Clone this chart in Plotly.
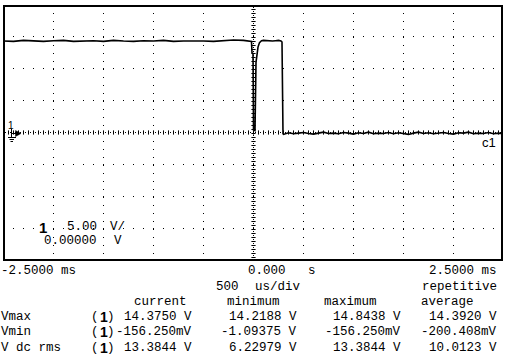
import numpy as np
import plotly.graph_objects as go

# ---------------- data ----------------
time_ms = [-2.50, -2.40, -2.30, -2.20, -2.10, -2.00, -1.90, -1.80, -1.70, -1.60,
           -1.50, -1.40, -1.30, -1.20, -1.10, -1.00, -0.90, -0.80, -0.70, -0.60,
           -0.50, -0.40, -0.30, -0.20, -0.10, -0.05, -0.020, -0.015, -0.005,
           0.000, 0.015, 0.025, 0.035, 0.045, 0.060, 0.080, 0.10, 0.13, 0.16,
           0.19, 0.22, 0.25, 0.275, 0.285, 0.295, 0.30, 0.35, 0.40, 0.45, 0.50,
           0.55, 0.60, 0.65, 0.70, 0.75, 0.80, 0.85, 0.90, 0.95, 1.00, 1.05,
           1.10, 1.15, 1.20, 1.25, 1.30, 1.35, 1.40, 1.45, 1.50, 1.55, 1.60,
           1.65, 1.70, 1.75, 1.80, 1.85, 1.90, 1.95, 2.00, 2.05, 2.10, 2.15,
           2.20, 2.25, 2.30, 2.35, 2.40, 2.45, 2.50]
volts = [14.35, 14.30, 14.45, 14.35, 14.30, 14.40, 14.45, 14.30, 14.35, 14.40,
         14.30, 14.45, 14.35, 14.30, 14.40, 14.35, 14.45, 14.30, 14.35, 14.40,
         14.35, 14.30, 14.40, 14.50, 14.45, 14.40, 14.30, 12.50, 12.40,
         0.40, 0.30, 11.00, 12.30, 13.40, 14.10, 14.40, 14.45, 14.40, 14.45,
         14.35, 14.40, 14.45, 14.35, 14.20, -0.20, -0.30, -0.05, -0.20, -0.10,
         0.00, -0.15, -0.25, -0.10, 0.05, -0.15, -0.10, -0.20, 0.00, -0.10,
         -0.25, -0.05, -0.15, 0.05, -0.20, -0.10, -0.15, 0.00, -0.20, -0.05,
         -0.15, -0.30, -0.10, 0.05, -0.15, -0.05, -0.20, -0.10, 0.00, -0.15,
         -0.25, -0.05, -0.10, 0.05, -0.20, -0.10, -0.15, 0.00, -0.20, -0.10,
         -0.15]

# ms, 500 us/div (shifted by half a pixel so 1-px graticule dots land on pixels)
x_range = [-2.505, 2.495]
y_range = [-20.0, 20.0]     # V, 5 V/div

time_labels = ["-2.5000 ms", "0.000   s", "2.5000 ms"]
timebase_labels = ["500", "us/div", "repetitive"]
col_headers = ["current", "minimum", "maximum", "average"]
meas_names = ["Vmax", "Vmin", "V dc rms"]
meas_current = ["14.3750 V", "-156.250mV", "13.3844 V"]
meas_minimum = ["14.2188 V", "-1.09375 V", "6.22979 V"]
meas_maximum = ["14.8438 V", "-156.250mV", "13.3844 V"]
meas_average = ["14.3920 V", "-200.408mV", "10.0123 V"]

# ---------------- layout helpers ----------------
W, H = 506, 356
L, R, T, B = 3, 3, 5, 96
PW, PH = W - L - R, H - T - B
XS = PW / (x_range[1] - x_range[0])   # px per ms
YS = PH / (y_range[1] - y_range[0])   # px per V


def px(x):
    return (x - L) / PW


def py(y):
    return (H - B - y) / PH


def to_t(xp):
    return x_range[0] + (np.asarray(xp, float) - L) / XS


def to_v(yp):
    return y_range[1] - (np.asarray(yp, float) - T) / YS


MONO = "Liberation Mono"
DOT = dict(symbol="square", size=1, color="black", line=dict(width=0))

fig = go.Figure()

# ---- graticule dots for the vertical divisions (drawn as 1-px squares) ----
col_px = [53.5, 103.5, 153.5, 203.5, 303.5, 353.5, 403.5, 453.5]
dot_y = np.arange(13.5, 258, 8.0)
gx, gy = np.meshgrid(col_px, dot_y)
fig.add_trace(go.Scatter(x=to_t(gx.ravel()), y=to_v(gy.ravel()), mode="markers",
                         marker=DOT, hoverinfo="skip", showlegend=False))
# centre column and centre row: fine dots plus small ticks
cy = np.arange(7.5, 259, 4.0)
cx = np.arange(5.5, 502, 5.0)
fig.add_trace(go.Scatter(x=np.concatenate([to_t(np.full(cy.size, 253.5)), to_t(cx)]),
                         y=np.concatenate([to_v(cy), to_v(np.full(cx.size, 132.5))]),
                         mode="markers", marker=DOT, hoverinfo="skip", showlegend=False))
tick_y = np.arange(9.5, 258, 4.0)
fig.add_trace(go.Scatter(x=to_t(np.full(tick_y.size, 253.5)), y=to_v(tick_y), mode="markers",
                         marker=dict(symbol="line-ew", size=3, color="black",
                                     line=dict(width=1, color="black")),
                         hoverinfo="skip", showlegend=False))
tick_x = np.arange(8.5, 500, 5.0)
fig.add_trace(go.Scatter(x=to_t(tick_x), y=to_v(np.full(tick_x.size, 132.5)), mode="markers",
                         marker=dict(symbol="line-ns", size=3, color="black",
                                     line=dict(width=1, color="black")),
                         hoverinfo="skip", showlegend=False))

# ---- the measured waveform ----
fig.add_trace(go.Scatter(x=time_ms, y=volts, mode="lines",
                         line=dict(color="black", width=1.6),
                         hoverinfo="skip", showlegend=False))

shapes = []
# frame
shapes.append(dict(type="rect", xref="paper", yref="paper",
                   x0=px(4), x1=px(502), y0=py(260), y1=py(6),
                   line=dict(color="black", width=2), layer="above"))


def seg(x0, y0, x1, y1, w=1):
    return dict(type="line", xref="paper", yref="paper", x0=px(x0), y0=py(y0),
                x1=px(x1), y1=py(y1), line=dict(color="black", width=w))


# ground marker: arrow + ground symbol
shapes.append(seg(11.5, 129, 11.5, 137))
shapes.append(seg(11.5, 133.5, 16, 133.5))
shapes.append(dict(type="path", xref="paper", yref="paper",
                   path="M %f,%f L %f,%f L %f,%f Z" % (px(15.5), py(130.5), px(21), py(133.5),
                                                       px(15.5), py(136.5)),
                   fillcolor="black", line=dict(color="black", width=0.5)))
shapes.append(seg(8, 137.5, 16, 137.5))
shapes.append(seg(9.5, 139.5, 14, 139.5))
shapes.append(seg(10.5, 141.5, 13, 141.5))

ann = []


def text(x, y, s, anchor="left", size=12.5, family=MONO, bold=False):
    if bold:
        s = "<b>%s</b>" % s
    ann.append(dict(xref="paper", yref="paper", x=px(x), y=py(y), text=s,
                    showarrow=False, xanchor=anchor, yanchor="middle",
                    font=dict(family=family, size=size, color="black"),
                    borderpad=0, bgcolor="rgba(0,0,0,0)"))


# on-screen labels
text(10.5, 125, "1", anchor="center", size=10, family="Liberation Sans")
text(497, 142, "c1", anchor="right", size=13, family="Liberation Sans")
text(43, 227, "1", anchor="center", size=15, family="Liberation Sans", bold=True)
text(98, 227, "5.00", anchor="right", size=12.5)
text(109, 227, "V/", anchor="left", size=12.5)
text(98, 241, "0.00000", anchor="right", size=12.5)
text(113, 241, "V", anchor="left", size=12.5)

# bottom read-out
text(0, 271, time_labels[0], "left")
text(247, 271, time_labels[1], "left")
text(498, 271, time_labels[2], "right")
text(215, 286.5, timebase_labels[0], "left")
text(254, 286.5, timebase_labels[1], "left")
text(498, 286.5, timebase_labels[2], "right")
for hx, h in zip([160, 253, 350, 447], col_headers):
    text(hx, 302, h, "center")
rows_y = [317, 332.5, 348]
for i, yy in enumerate(rows_y):
    text(0, yy, meas_names[i], "left")
    text(95, yy, "(", "center")
    text(103.5, yy, "1", "center", size=14, family="Liberation Sans", bold=True)
    text(111, yy, ")", "center")
    text(193, yy, meas_current[i], "right")
    text(298, yy, meas_minimum[i], "right")
    text(402, yy, meas_maximum[i], "right")
    text(498, yy, meas_average[i], "right")

fig.update_layout(
    width=W, height=H,
    margin=dict(l=L, r=R, t=T, b=B, pad=0),
    paper_bgcolor="white", plot_bgcolor="white",
    showlegend=False,
    shapes=shapes, annotations=ann,
    xaxis=dict(range=x_range, showgrid=False, zeroline=False, showticklabels=False,
               ticks="", showline=False, fixedrange=True),
    yaxis=dict(range=y_range, dtick=5, tick0=-20, showgrid=True, gridcolor="black",
               gridwidth=1, griddash="1.4px,8.6px", zeroline=False, showticklabels=False,
               ticks="", showline=False, fixedrange=True),
)

fig.write_html("out.html")
